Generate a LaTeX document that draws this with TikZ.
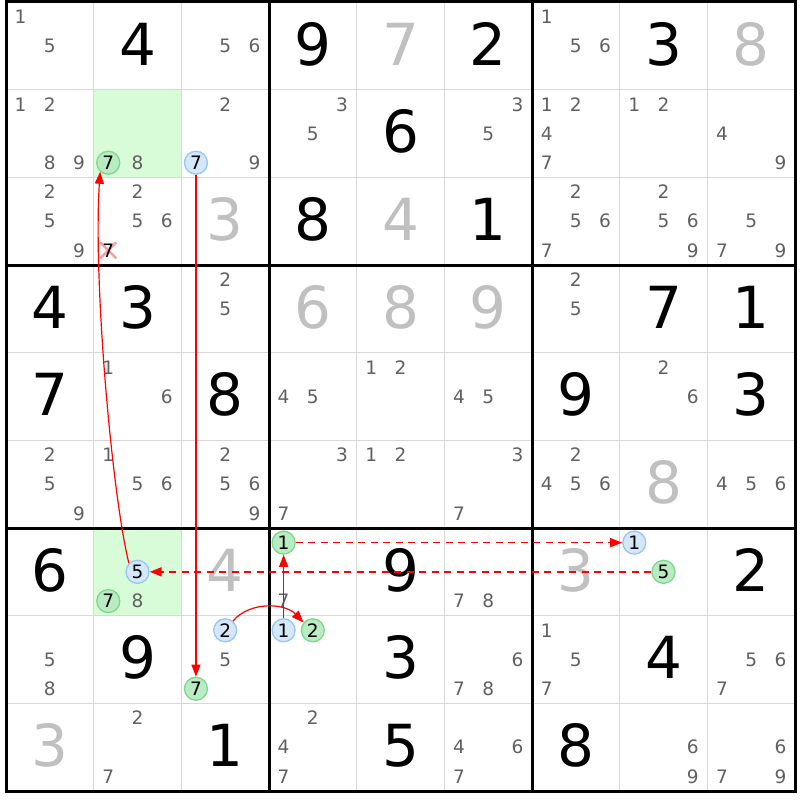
\documentclass[tikz,border=0pt]{standalone}
\usepackage{fontspec}
\setmainfont{DejaVu Sans}
\usetikzlibrary{arrows.meta}
\definecolor{candgray}{RGB}{96,96,96}
\definecolor{solvedgray}{RGB}{192,192,192}
\definecolor{gridgray}{RGB}{215,215,215}
\definecolor{hlgreen}{RGB}{216,252,216}
\definecolor{bluefill}{RGB}{212,231,251}
\definecolor{bluedraw}{RGB}{150,198,244}
\definecolor{greenfill}{RGB}{185,236,194}
\definecolor{greendraw}{RGB}{125,216,140}
\definecolor{pinkx}{RGB}{245,160,160}
\definecolor{arrred}{RGB}{255,0,0}
\newcommand\candxy[3]{%
  \pgfmathsetmacro\cx{6+#2*87.67+(mod(#3-1,3)+0.5)*29.22}%
  \pgfmathsetmacro\cy{2+#1*87.67+(floor((#3-1)/3)+0.5)*29.22}%
}
\tikzset{
  thingrid/.style={draw=gridgray,line width=1.6pt},
  thickgrid/.style={draw=black,line width=3pt},
  given/.style={font=\fontsize{58}{58}\selectfont,text=black,inner sep=0pt},
  solved/.style={font=\fontsize{58}{58}\selectfont,text=solvedgray,inner sep=0pt},
  cand/.style={font=\fontsize{18.5}{18.5}\selectfont,text=candgray,inner sep=0pt},
  candblack/.style={font=\fontsize{18.5}{18.5}\selectfont,text=black,inner sep=0pt},
  bluec/.style={circle,draw=bluedraw,fill=bluefill,line width=1.3pt,minimum size=23pt,inner sep=0pt,font=\fontsize{18.5}{18.5}\selectfont,text=black},
  greenc/.style={circle,draw=greendraw,fill=greenfill,line width=1.3pt,minimum size=23pt,inner sep=0pt,font=\fontsize{18.5}{18.5}\selectfont,text=black},
  arr/.style={draw=arrred,line width=1.2pt,-{Triangle[length=12pt,width=9pt]}},
  darr/.style={draw=arrred,line width=1.6pt,dash pattern=on 7pt off 5.5pt,-{Triangle[length=12pt,width=9pt]}},
  xmark/.style={draw=pinkx,line width=2.5pt}
}
\begin{document}
\begin{tikzpicture}[x=1pt,y=-1pt]
\useasboundingbox (0,0) rectangle (800,800);
\fill[white] (0,0) rectangle (800,800);
% highlighted cells
\fill[hlgreen] (6+87.67,2+87.67) rectangle (6+2*87.67,2+2*87.67);
\fill[hlgreen] (6+87.67,2+6*87.67) rectangle (6+2*87.67,2+7*87.67);
% thin grid
\foreach \i in {1,2,4,5,7,8}{
  \draw[thingrid] (6+\i*87.67,2) -- (6+\i*87.67,791);
  \draw[thingrid] (6,2+\i*87.67) -- (795,2+\i*87.67);
}
% thick grid
\foreach \i in {3,6}{
  \draw[thickgrid] (6+\i*87.67,2) -- (6+\i*87.67,791);
  \draw[thickgrid] (6,2+\i*87.67) -- (795,2+\i*87.67);
}
\draw[thickgrid] (6,2) rectangle (795,791);
% given digits
\foreach \r/\c/\d in {0/1/4,0/3/9,0/5/2,0/7/3,1/4/6,2/3/8,2/5/1,3/0/4,3/1/3,3/7/7,3/8/1,4/0/7,4/2/8,4/6/9,4/8/3,6/0/6,6/4/9,6/8/2,7/1/9,7/4/3,7/7/4,8/2/1,8/4/5,8/6/8}{
  \node[given] (v\r\c) at (6+\c*87.67+43.8,2+\r*87.67+42) {\d};
}
% solved digits
\foreach \r/\c/\d in {0/4/7,0/8/8,2/2/3,2/4/4,3/3/6,3/4/8,3/5/9,5/7/8,6/2/4,6/6/3,8/0/3}{
  \node[solved] (v\r\c) at (6+\c*87.67+43.8,2+\r*87.67+42) {\d};
}
% candidates
\foreach \r/\c/\ds in {0/0/{1,5},0/2/{5,6},0/6/{1,5,6},
  1/0/{1,2,8,9},1/1/{8},1/2/{2,9},1/3/{3,5},1/5/{3,5},1/6/{1,2,4,7},1/7/{1,2},1/8/{4,9},
  2/0/{2,5,9},2/1/{2,5,6},2/6/{2,5,6,7},2/7/{2,5,6,9},2/8/{5,7,9},
  3/2/{2,5},3/6/{2,5},
  4/1/{1,6},4/3/{4,5},4/4/{1,2},4/5/{4,5},4/7/{2,6},
  5/0/{2,5,9},5/1/{1,5,6},5/2/{2,5,6,9},5/3/{3,7},5/4/{1,2},5/5/{3,7},5/6/{2,4,5,6},5/8/{4,5,6},
  6/1/{8},6/3/{7},6/5/{7,8},
  7/0/{5,8},7/2/{5},7/5/{6,7,8},7/6/{1,5,7},7/8/{5,6,7},
  8/1/{2,7},8/3/{2,4,7},8/5/{4,6,7},8/7/{6,9},8/8/{6,7,9}}{
  \foreach \d in \ds {
    \candxy{\r}{\c}{\d}
    \node[cand] (k\r\c\d) at (\cx,\cy) {\d};
  }
}
% eliminated candidate
\candxy{2}{1}{7}
\draw[xmark] (\cx-8,\cy-8) -- (\cx+8,\cy+8) (\cx-8,\cy+8) -- (\cx+8,\cy-8);
\node[candblack] (k217) at (\cx,\cy) {7};
% circled candidates
\foreach \st/\r/\c/\d in {greenc/1/1/7,bluec/1/2/7,bluec/6/1/5,greenc/6/1/7,greenc/6/3/1,bluec/6/7/1,greenc/6/7/5,bluec/7/2/2,greenc/7/2/7,bluec/7/3/1,greenc/7/3/2}{
  \candxy{\r}{\c}{\d}
  \node[\st] (k\r\c\d) at (\cx,\cy) {\d};
}
% connectors
\draw[arr] (k615.135) .. controls (112,495) and (93,280) .. (k117.228);
\draw[arr] (k127.south) -- (k727.north);
\draw[darr] (k675.west) -- (k615.east);
\draw[darr] (k631.east) -- (k671.west);
\draw[arr] (k731.north) -- (k631.south);
\draw[arr] (k722.50) .. controls (250,601) and (285,603) .. (k732.140);
\end{tikzpicture}
\end{document}
